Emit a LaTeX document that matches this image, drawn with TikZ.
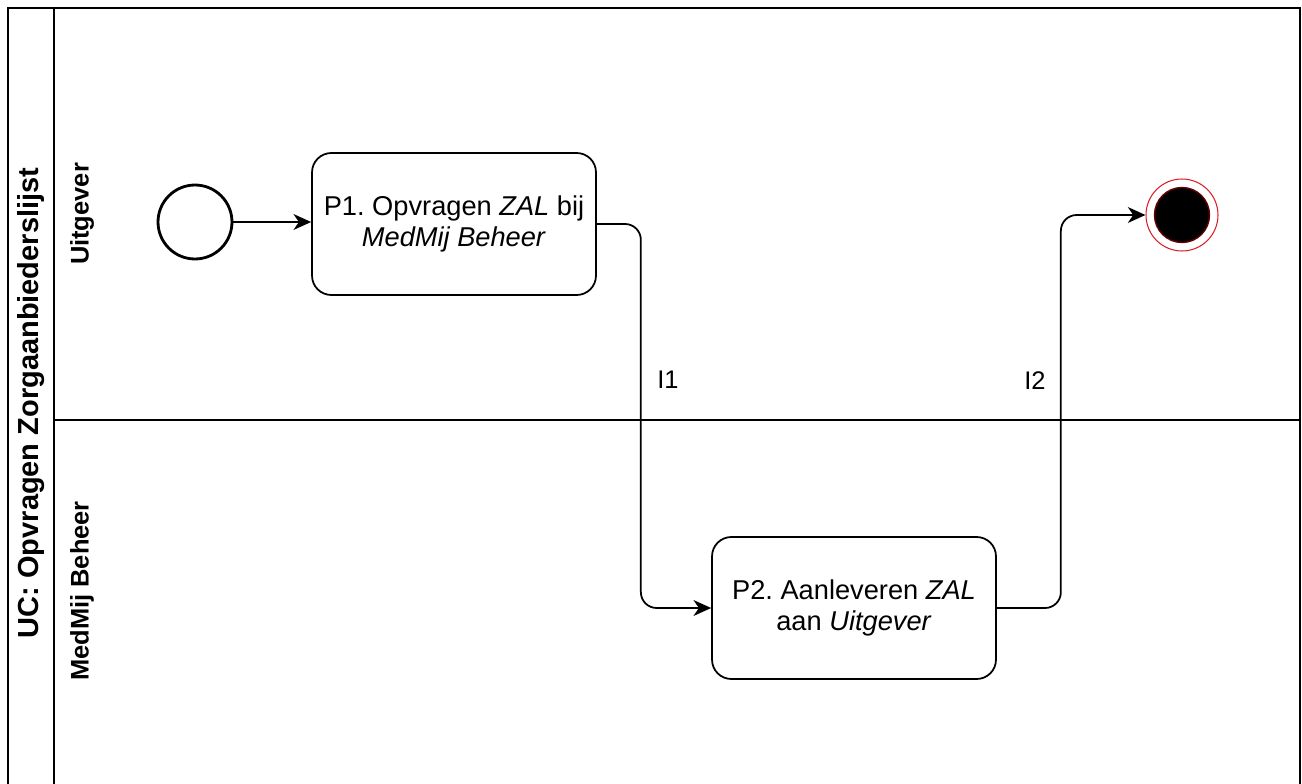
\documentclass[tikz,border=0pt]{standalone}
\usepackage{fontspec}
\setmainfont{Liberation Sans}
\usepackage{tikz}
\usetikzlibrary{arrows.meta,positioning,calc}
\definecolor{end_red}{RGB}{220,30,40}
\frenchspacing

\begin{document}
\begin{tikzpicture}[
                x=0.02cm, y=-0.02cm,
                every node/.style={inner sep=2pt},
                pool/.style={black, line width=1.1pt},
                lanetitle/.style={rotate=90, font=\fontsize{14.5}{16}\selectfont\bfseries},
                pooltitle/.style={rotate=90, font=\fontsize{16.5}{18}\selectfont\bfseries},
                event_s/.style={draw, circle, line width=1.6pt, minimum size=1.48cm},
                event_e/.style={draw=end_red, circle, line width=0.6pt, minimum size=1.44cm},
                event_core/.style={draw=red!40!black, fill=black, circle, line width=0.8pt, minimum size=1.1cm},
                task/.style={draw, line width=1pt, rounded corners=11pt, minimum width=5.68cm, minimum height=2.84cm, font=\fontsize{15.5}{17.5}\selectfont, align=center},
                flow/.style={line width=1pt, rounded corners=9pt, -{Stealth[length=10pt,width=9pt,inset=3pt]}},
                flowlabel/.style={font=\fontsize{14.5}{16}\selectfont}
            ]
                % Page size
                \useasboundingbox (0,0) rectangle (1302,784);

                % Pool frame and lanes
                \draw[pool] (8,784) -- (8,8) -- (1300,8) -- (1300,784);
                \draw[pool] (54,8) -- (54,784);
                \draw[pool] (54,420) -- (1300,420);

                % Pool and lane titles
                \node[pooltitle] (ucname) at (31,403) {UC: Opvragen Zorgaanbiederslijst};
                \node[lanetitle] (lane1) at (82,214) {Uitgever};
                \node[lanetitle] (lane2) at (82,591) {MedMij Beheer};

                % Events
                \node[event_s] (start) at (195,222) {};
                \node[event_e] (stop) at (1182,215) {};
                \node[event_core] (stopcore) at (stop.center) {};

                % Tasks
                \node[task] (p1) at (454,224) {P1. Opvragen \textit{ZAL} bij\\ \textit{MedMij Beheer}};
                \node[task] (p2) at (854,608) {P2. Aanleveren \textit{ZAL}\\ aan \textit{Uitgever}};

                % Sequence flows
                \draw[flow] (start) -- (start -| p1.west);
                \draw[flow] (p1.east) -- ++(44,0) |- (p2.west);
                \draw[flow] (p2.east) -- ++(64,0) |- (stop.west);

                % Flow labels
                \node[flowlabel] (i1) at (668,380) {I1};
                \node[flowlabel] (i2) at (1035,381) {I2};
            \end{tikzpicture}
\end{document}
